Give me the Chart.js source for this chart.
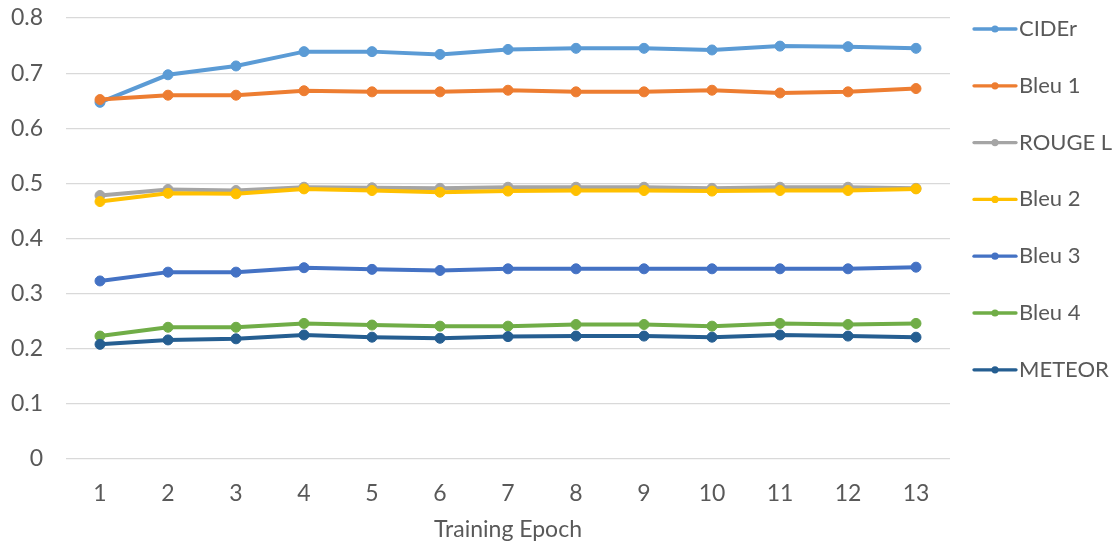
<!DOCTYPE html>
<html>
<head>
<meta charset="utf-8">
<script src="https://cdn.jsdelivr.net/npm/chart.js@4/dist/chart.umd.min.js"></script>
<style>
  html, body { margin: 0; padding: 0; background: #ffffff; }
  canvas { display: block; }
</style>
</head>
<body>
<canvas id="chart" width="1113" height="543"></canvas>
<script>
// Training epochs on the x axis
const epochs = ['1', '2', '3', '4', '5', '6', '7', '8', '9', '10', '11', '12', '13'];

// Metric scores per epoch
const cider  = [0.647, 0.697, 0.713, 0.739, 0.739, 0.734, 0.743, 0.745, 0.745, 0.742, 0.749, 0.748, 0.745];
const bleu1  = [0.652, 0.660, 0.660, 0.668, 0.666, 0.666, 0.669, 0.666, 0.666, 0.669, 0.664, 0.666, 0.672];
const rougeL = [0.478, 0.489, 0.487, 0.493, 0.492, 0.491, 0.493, 0.493, 0.493, 0.491, 0.493, 0.493, 0.491];
const bleu2  = [0.467, 0.482, 0.481, 0.490, 0.487, 0.484, 0.486, 0.487, 0.487, 0.486, 0.487, 0.487, 0.490];
const bleu3  = [0.323, 0.339, 0.339, 0.347, 0.344, 0.342, 0.345, 0.345, 0.345, 0.345, 0.345, 0.345, 0.348];
const bleu4  = [0.223, 0.239, 0.239, 0.246, 0.243, 0.241, 0.241, 0.244, 0.244, 0.241, 0.246, 0.244, 0.246];
const meteor = [0.208, 0.216, 0.218, 0.225, 0.221, 0.219, 0.222, 0.223, 0.223, 0.221, 0.225, 0.223, 0.221];

const seriesNames = ['CIDEr', 'Bleu 1', 'ROUGE L', 'Bleu 2', 'Bleu 3', 'Bleu 4', 'METEOR'];
const seriesValues = [cider, bleu1, rougeL, bleu2, bleu3, bleu4, meteor];

// Y axis range and step
const yMin = 0;
const yMax = 0.8;
const yStep = 0.1;

const palette = ['#5B9BD5', '#ED7D31', '#A5A5A5', '#FFC000', '#4472C4', '#70AD47', '#255E91'];
const textColor = '#595959';
const fontFamily = 'Lato, "Open Sans", "DejaVu Sans", sans-serif';
const fontSize = 23;

// Legend on the right: short line with a dot, followed by the series name
const sideLegend = {
  id: 'sideLegend',
  afterDraw(chart, args, opts) {
    const { ctx, chartArea } = chart;
    ctx.save();
    ctx.font = `${opts.size}px ${opts.family}`;
    ctx.textBaseline = 'middle';
    ctx.textAlign = 'left';
    chart.data.datasets.forEach((ds, i) => {
      const y = chartArea.top + opts.firstOffset + i * opts.spacing;
      const x0 = chartArea.right + opts.gap;
      ctx.strokeStyle = ds.borderColor;
      ctx.lineWidth = 3.3;
      ctx.lineCap = 'round';
      ctx.beginPath();
      ctx.moveTo(x0, y);
      ctx.lineTo(x0 + opts.lineLen, y);
      ctx.stroke();
      ctx.fillStyle = ds.borderColor;
      ctx.beginPath();
      ctx.arc(x0 + opts.lineLen / 2, y, 3.6, 0, Math.PI * 2);
      ctx.fill();
      ctx.fillStyle = opts.color;
      ctx.fillText(ds.label, x0 + opts.lineLen + opts.textGap, y);
    });
    ctx.restore();
  }
};

const datasets = seriesNames.map((name, i) => ({
  label: name,
  data: seriesValues[i],
  borderColor: palette[i],
  backgroundColor: palette[i],
  pointBackgroundColor: palette[i],
  pointBorderColor: palette[i],
  borderWidth: 4,
  pointRadius: 5,
  pointBorderWidth: 1,
  tension: 0,
  fill: false,
  // later series are painted over earlier ones
  order: seriesNames.length - i
}));

new Chart(document.getElementById('chart'), {
  type: 'line',
  data: { labels: epochs, datasets },
  plugins: [sideLegend],
  options: {
    responsive: false,
    animation: false,
    layout: { padding: { top: 18, right: 163, bottom: 0, left: 0 } },
    plugins: {
      legend: { display: false },
      tooltip: { enabled: false },
      sideLegend: {
        size: 22,
        family: fontFamily,
        color: textColor,
        gap: 24,
        lineLen: 42,
        textGap: 3,
        firstOffset: 11,
        spacing: 56.8
      }
    },
    scales: {
      x: {
        type: 'category',
        offset: true,
        grid: { display: false, drawTicks: false },
        border: { display: false },
        ticks: {
          color: textColor,
          font: { family: fontFamily, size: fontSize },
          padding: 21,
          maxRotation: 0
        },
        title: {
          display: true,
          text: 'Training Epoch',
          color: textColor,
          font: { family: fontFamily, size: fontSize },
          padding: { top: 0, bottom: 0 }
        },
        afterFit(scale) {
          scale.height = 84;
          scale.paddingLeft = 0;
          scale.paddingRight = 0;
        }
      },
      y: {
        min: yMin,
        max: yMax,
        ticks: {
          stepSize: yStep,
          color: textColor,
          font: { family: fontFamily, size: fontSize },
          padding: 23
        },
        grid: { color: '#D9D9D9', lineWidth: 1.2, drawTicks: false },
        border: { display: false },
        afterFit(scale) {
          scale.width = 66;
          scale.paddingTop = 0;
          scale.paddingBottom = 0;
        }
      }
    }
  }
});
</script>
</body>
</html>
